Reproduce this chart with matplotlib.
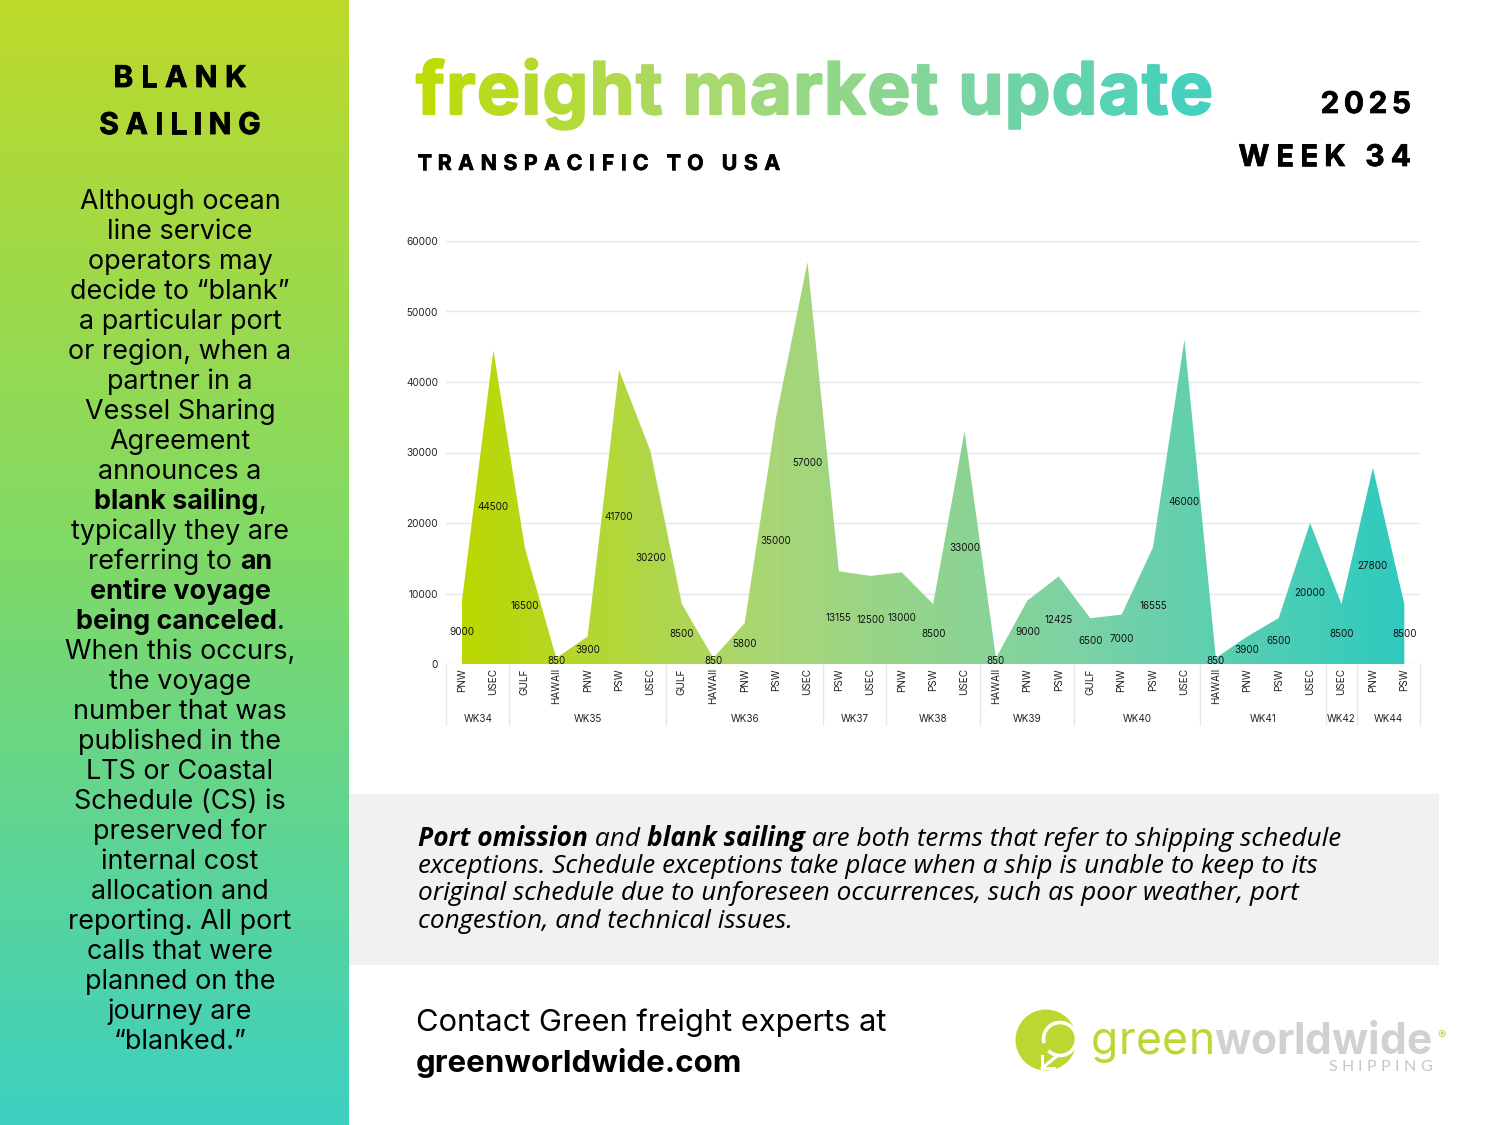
import numpy as np
import matplotlib
matplotlib.use("Agg")
import matplotlib.pyplot as plt
import matplotlib.patheffects as pe
from matplotlib.patches import Circle, Arc, Rectangle

FONT = "Inter"

ports = ["PNW", "USEC", "GULF", "HAWAII", "PNW", "PSW", "USEC", "GULF", "HAWAII", "PNW", "PSW",
         "USEC", "PSW", "USEC", "PNW", "PSW", "USEC", "HAWAII", "PNW", "PSW", "GULF", "PNW", "PSW",
         "USEC", "HAWAII", "PNW", "PSW", "USEC", "USEC", "PNW", "PSW"]
rates = [9000, 44500, 16500, 850, 3900, 41700, 30200, 8500, 850, 5800, 35000,
         57000, 13155, 12500, 13000, 8500, 33000, 850, 9000, 12425, 6500, 7000, 16555,
         46000, 850, 3900, 6500, 20000, 8500, 27800, 8500]
weeks = ["WK34", "WK35", "WK36", "WK37", "WK38", "WK39", "WK40", "WK41", "WK42", "WK44"]
week_sizes = [2, 5, 5, 2, 3, 3, 4, 4, 1, 2]
y_ticks = [0, 10000, 20000, 30000, 40000, 50000, 60000]

side_lines = [
    [("Although ocean", 0)], [("line service", 0)], [("operators may", 0)],
    [("decide to “blank”", 0)], [("a particular port", 0)], [("or region, when a", 0)],
    [("partner in a", 0)], [("Vessel Sharing", 0)], [("Agreement", 0)], [("announces a", 0)],
    [("blank sailing", 1), (",", 0)], [("typically they are", 0)],
    [("referring to ", 0), ("an", 1)], [("entire voyage", 1)],
    [("being canceled", 1), (".", 0)], [("When this occurs,", 0)], [("the voyage", 0)],
    [("number that was", 0)], [("published in the", 0)], [("LTS or Coastal", 0)],
    [("Schedule (CS) is", 0)], [("preserved for", 0)], [("internal cost", 0)],
    [("allocation and", 0)], [("reporting. All port", 0)], [("calls that were", 0)],
    [("planned on the", 0)], [("journey are", 0)], [("“blanked.”", 0)],
]
note_lines = [
    [("Port omission", 1), (" and ", 0), ("blank sailing", 1),
     (" are both terms that refer to shipping schedule", 0)],
    [("exceptions. Schedule exceptions take place when a ship is unable to keep to its", 0)],
    [("original schedule due to unforeseen occurrences, such as poor weather, port", 0)],
    [("congestion, and technical issues.", 0)],
]

fig = plt.figure(figsize=(15, 11.25), dpi=100, facecolor="white")
bg = fig.add_axes([0, 0, 1, 1])
bg.set_xlim(0, 1500)
bg.set_ylim(1125, 0)
bg.axis("off")
renderer = fig.canvas.get_renderer()


def hexrgb(c):
    return np.array(matplotlib.colors.to_rgb(c))


def ramp(stops, n=256):
    """Colour ramp through evenly spaced stops, as an n x 3 array."""
    stops = np.array([hexrgb(c) for c in stops])
    pos = np.linspace(0, 1, len(stops))
    t = np.linspace(0, 1, n)
    return np.stack([np.interp(t, pos, stops[:, i]) for i in range(3)], axis=1)


def advance(s, **kw):
    # trailing spaces get dropped when measuring, so bracket with a bar
    t = bg.text(0, 0, s + "|", **kw)
    bar = bg.text(0, 0, "|", **kw)
    w = t.get_window_extent(renderer).width - bar.get_window_extent(renderer).width
    t.remove()
    bar.remove()
    return w


def spaced(x, y, s, size, weight="bold", track=0, ha="left", colors=None, color="black",
           family=FONT, heavy=0):
    kw = dict(fontsize=size, fontweight=weight, family=family)
    total = advance(s, **kw) + track * (len(s) - 1)
    if ha == "right":
        x = x - total
    elif ha == "center":
        x = x - total / 2
    for i, ch in enumerate(s):
        if ch == " ":
            continue
        cx = x + advance(s[:i], **kw) + track * i
        c = color
        if colors is not None:
            c = colors[min(int((cx - x) / total * len(colors)), len(colors) - 1)]
        t = bg.text(cx, y, ch, color=c, ha="left", va="baseline", **kw)
        if heavy:
            t.set_path_effects([pe.withStroke(linewidth=heavy, foreground=c)])


def rich(x, y, parts, size, ha="left", style="normal", family=FONT):
    widths = [advance(p, fontsize=size, fontweight="bold" if b else "normal",
                      fontstyle=style, family=family) for p, b in parts]
    if ha == "center":
        x = x - sum(widths) / 2
    for (p, b), w in zip(parts, widths):
        bg.text(x, y, p, fontsize=size, fontweight="bold" if b else "normal", fontstyle=style,
                family=family, ha="left", va="baseline", color="black")
        x += w


# left panel
panel = ramp(["#BDD92B", "#7FD968", "#3DD0C1"])[:, None, :]
bg.imshow(panel, extent=(0, 349, 1125, 0), aspect="auto", zorder=0)
bg.set_xlim(0, 1500)
bg.set_ylim(1125, 0)
spaced(180, 87, "BLANK", 21.5, track=7.5, ha="center", heavy=0.6)
spaced(180, 134, "SAILING", 21.5, track=6.8, ha="center", heavy=0.6)
for i, line in enumerate(side_lines):
    rich(180, 209 + 30 * i, line, 19.4, ha="center")

# header
title_cols = ramp(["#BEDB05", "#A8D96F", "#7DD5A0", "#3BD0C2"])
spaced(416, 114, "freight market update", 52, track=1.45, colors=title_cols, heavy=1.6)
spaced(417, 170, "TRANSPACIFIC TO USA", 15.5, track=6.4, heavy=0.4)
spaced(1411, 113, "2025", 21.5, track=4.5, ha="right", heavy=0.5)
spaced(1411, 166, "WEEK 34", 21.5, track=6.2, ha="right", heavy=0.5)

# note band
bg.add_patch(Rectangle((349, 794), 1090, 171, fc="#F1F1F1", ec="none"))
for i, line in enumerate(note_lines):
    rich(418, 845.5 + 27.4 * i, line, 18.9, style="italic", family="Open Sans")

# contact
bg.text(416, 1031, "Contact Green freight experts at", fontsize=22.2, family=FONT, va="baseline")
bg.text(416, 1072, "greenworldwide.com", fontsize=22.5, fontweight="bold", family=FONT, va="baseline")

# logo
LIME = "#BDD631"
GREY = "#CFD1D3"
bg.add_patch(Circle((1046, 1040), 30.5, fc=LIME, ec="none"))
bg.add_patch(Arc((1060, 1039), 33, 33, theta1=165, theta2=495, ec="white", lw=2.6))
bg.plot([1042, 1042, 1054], [1056, 1068, 1068], color="white", lw=2.2, solid_joinstyle="miter")
bg.plot([1042, 1057], [1068, 1056], color="white", lw=2.2)
spaced(1091, 1054, "green", 32, weight="normal", color=LIME, track=0.4)
spaced(1214, 1054, "worldwide", 30.6, color=GREY)
spaced(1328, 1071, "SHIPPING", 11.5, weight="normal", track=4.4, color="#C4C6C8", family="Lato")
bg.text(1442, 1036, "®", fontsize=9, color=LIME, ha="center", va="center", family=FONT)

# chart
ax = fig.add_axes([446.3 / 1500, (1125 - 664) / 1125, (1420 - 446.3) / 1500, 423 / 1125])
ax.patch.set_visible(False)
x = np.arange(len(rates))
area = ax.fill_between(x, rates, 0, color="none")
grad = ramp(["#BBD800", "#A8D678", "#7AD2A6", "#2FCABF"])[None, :, :]
im = ax.imshow(grad, extent=(x[0], x[-1], 0, 60000), aspect="auto", zorder=2)
im.set_clip_path(area.get_paths()[0], transform=ax.transData)
ax.set_xlim(-0.5, len(rates) - 0.5)
ax.set_ylim(0, 60000)
ax.set_yticks(y_ticks)
ax.set_yticklabels([str(v) for v in y_ticks], fontsize=7.2, family=FONT, color="#222222")
ax.set_xticks(x)
ax.set_xticklabels(ports, rotation=90, fontsize=7.2, family=FONT, color="#222222", va="top")
ax.tick_params(length=0, axis="both")
ax.tick_params(axis="y", pad=6)
ax.tick_params(axis="x", pad=3)
ax.grid(axis="y", color="#E6E6E6", lw=1, zorder=1)
ax.set_axisbelow(True)
for s in ["top", "right", "left", "bottom"]:
    ax.spines[s].set_visible(False)
for xi, v in zip(x, rates):
    ax.text(xi, v / 2, str(v), fontsize=7.1, family=FONT, ha="center", va="center", zorder=3,
            color="#111111", clip_on=False)

# week groups under the port labels
drop = -61 / 423 * 60000
label_y = -55 / 423 * 60000
edges = np.concatenate([[0], np.cumsum(week_sizes)]) - 0.5
ax.vlines(edges, drop, 0, color="#E6E6E6", lw=1, clip_on=False)
for wk, a, b in zip(weeks, edges[:-1], edges[1:]):
    ax.text((a + b) / 2, label_y, wk, fontsize=7.1, family=FONT, ha="center", va="center", color="#222222")

fig.savefig("out.png", dpi=100)
